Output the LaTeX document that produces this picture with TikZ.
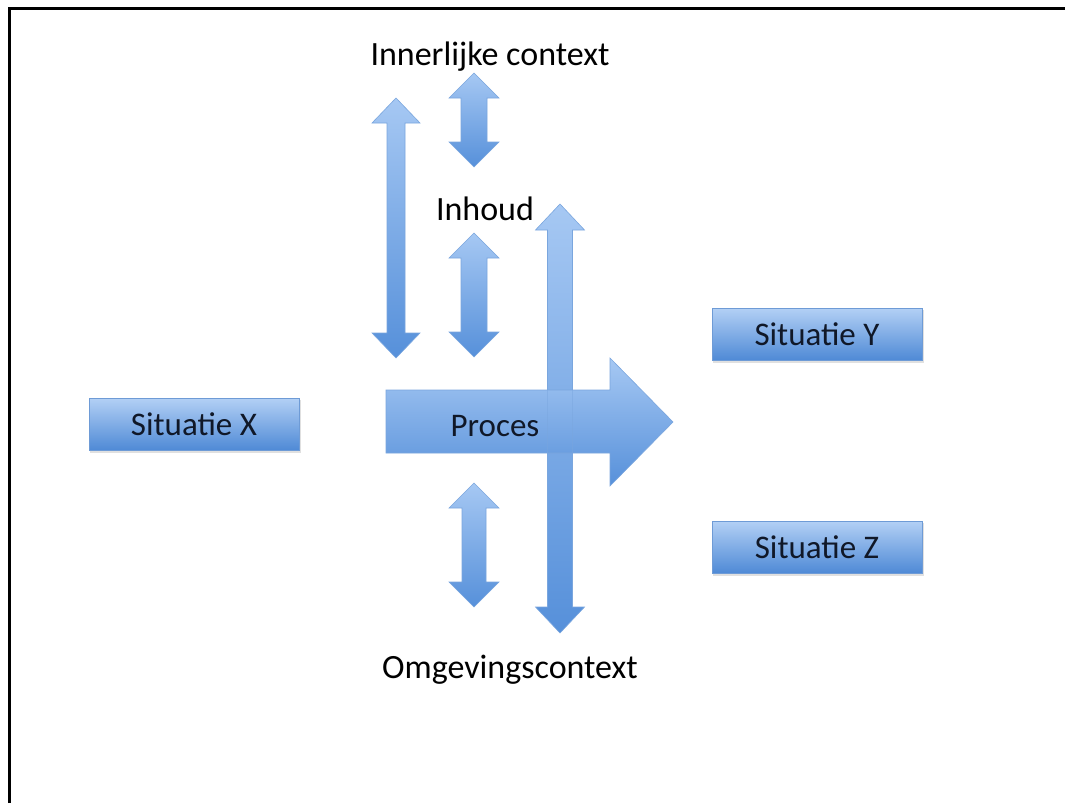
\documentclass[tikz,border=0pt]{standalone}
\usepackage{fontspec}
\setmainfont{Carlito}
\definecolor{boxtop}{HTML}{B3D0F5}
\definecolor{boxbot}{HTML}{4F8AD6}
\definecolor{boxedge}{HTML}{6E9BD6}
\definecolor{arrtop}{HTML}{A6C8F3}
\definecolor{arrbot}{HTML}{5690DA}
\definecolor{arredge}{HTML}{7AA6DE}
\definecolor{labeltext}{HTML}{101828}

% vertical double-headed block arrow: x, top tip, bottom tip, shaft half width, head half width, head length
\newcommand\vdblarrow[6]{%
  \path[blockarrow] (#1,#2) -- (#1+#5,#2+#6) -- (#1+#4,#2+#6) -- (#1+#4,#3-#6)
    -- (#1+#5,#3-#6) -- (#1,#3) -- (#1-#5,#3-#6) -- (#1-#4,#3-#6)
    -- (#1-#4,#2+#6) -- (#1-#5,#2+#6) -- cycle;}

\begin{document}
\begin{tikzpicture}[x=1pt,y=-1pt,
  situation/.style={draw=boxedge, line width=0.6pt, top color=boxtop, bottom color=boxbot,
    minimum width=210pt, minimum height=52pt, inner sep=0pt,
    font=\fontsize{33}{36}\selectfont, text=labeltext},
  blockarrow/.style={draw=arredge, line width=0.6pt, top color=arrtop, bottom color=arrbot},
  freelabel/.style={font=\fontsize{34}{38}\selectfont, text=black, inner sep=0pt}]
\useasboundingbox (0,0) rectangle (1065,803);
\fill[white] (0,0) rectangle (1065,803);

% slide frame
\draw[line width=3pt] (9,803) -- (9,8) -- (1065,8);

% soft shadows of the situation boxes
\foreach \cx/\cy in {194/424, 817/334, 817/547}
  \fill[black!12] (\cx-104,\cy-24) rectangle (\cx+107,\cy+29);

% situation boxes
\node[situation] (sx) at (194,424) {Situatie X};
\node[situation] (sy) at (817,334) {Situatie Y};
\node[situation] (sz) at (817,547) {Situatie Z};

% double arrows
\vdblarrow{396}{98}{358}{9}{24}{25}
\vdblarrow{474}{73}{167}{13}{25}{25}
\vdblarrow{474}{233}{357}{13}{25}{25}
\vdblarrow{474}{483}{607}{12}{25}{25}
\vdblarrow{560}{204}{633}{12.5}{24.5}{26}

% process arrow
\path[blockarrow] (386,390) -- (610,390) -- (610,358) -- (673,422)
  -- (610,486) -- (610,453) -- (386,453) -- cycle;
\draw[arredge, opacity=0.45, line width=0.6pt] (547.5,390) -- (547.5,453) (572.5,390) -- (572.5,453);
\node[font=\fontsize{33}{36}\selectfont, text=labeltext] (proc) at (495,426) {Proces};

% labels
\node[freelabel] (inner) at (490,57) {Innerlijke context};
\node[freelabel] (inh) at (485,209) {Inhoud};
\node[freelabel] (omg) at (510,670) {Omgevingscontext};
\end{tikzpicture}
\end{document}
